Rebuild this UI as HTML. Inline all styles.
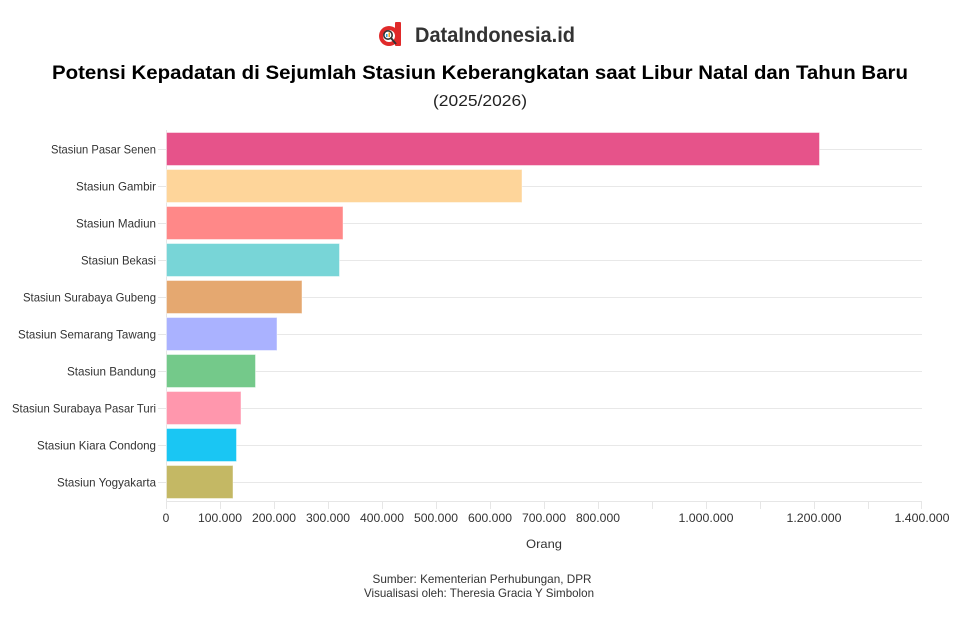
<!DOCTYPE html>
<html>
<head>
<meta charset="utf-8">
<style>
html,body{margin:0;padding:0;background:#fff;}
svg{display:block;}
text{font-family:"Liberation Sans",sans-serif;}
</style>
</head>
<body>
<svg width="960" height="620" viewBox="0 0 960 620" xmlns="http://www.w3.org/2000/svg">
<rect width="960" height="620" fill="#fff"/>
<!-- Logo -->
<g>
  <rect x="395" y="22" width="6" height="24" rx="1" fill="#e02a2a"/>
  <circle cx="389" cy="36" r="10" fill="#e02a2a"/>
  <circle cx="389" cy="36" r="6" fill="#fff"/>
  <circle cx="388" cy="35" r="4.2" fill="none" stroke="#333" stroke-width="1.6"/>
  <rect x="386" y="34" width="1.5" height="3" fill="#2a9fd6"/>
  <rect x="388.5" y="32.5" width="1.5" height="4.5" fill="#f0a020"/>
  <line x1="391" y1="38" x2="396" y2="44" stroke="#333" stroke-width="2"/>
  <text x="415" y="42" font-size="21" font-weight="bold" fill="#333" textLength="160" lengthAdjust="spacingAndGlyphs">DataIndonesia.id</text>
</g>
<!-- Title -->
<text x="52" y="79" font-size="19" font-weight="bold" fill="#000" textLength="856" lengthAdjust="spacingAndGlyphs">Potensi Kepadatan di Sejumlah Stasiun Keberangkatan saat Libur Natal dan Tahun Baru</text>
<text x="480" y="106" font-size="16" fill="#222" text-anchor="middle" textLength="94" lengthAdjust="spacingAndGlyphs">(2025/2026)</text>

<!-- Gridlines -->
<g stroke="#e8e8e8" stroke-width="1">
  <line x1="166" y1="149.5" x2="922" y2="149.5"/>
  <line x1="166" y1="186.5" x2="922" y2="186.5"/>
  <line x1="166" y1="223.5" x2="922" y2="223.5"/>
  <line x1="166" y1="260.5" x2="922" y2="260.5"/>
  <line x1="166" y1="297.5" x2="922" y2="297.5"/>
  <line x1="166" y1="334.5" x2="922" y2="334.5"/>
  <line x1="166" y1="371.5" x2="922" y2="371.5"/>
  <line x1="166" y1="408.5" x2="922" y2="408.5"/>
  <line x1="166" y1="445.5" x2="922" y2="445.5"/>
  <line x1="166" y1="482.5" x2="922" y2="482.5"/>
</g>
<!-- y-axis ticks -->
<g stroke="#e6e6e6" stroke-width="1">
  <line x1="158" y1="149.5" x2="166" y2="149.5"/>
  <line x1="158" y1="186.5" x2="166" y2="186.5"/>
  <line x1="158" y1="223.5" x2="166" y2="223.5"/>
  <line x1="158" y1="260.5" x2="166" y2="260.5"/>
  <line x1="158" y1="297.5" x2="166" y2="297.5"/>
  <line x1="158" y1="334.5" x2="166" y2="334.5"/>
  <line x1="158" y1="371.5" x2="166" y2="371.5"/>
  <line x1="158" y1="408.5" x2="166" y2="408.5"/>
  <line x1="158" y1="445.5" x2="166" y2="445.5"/>
  <line x1="158" y1="482.5" x2="166" y2="482.5"/>
  <line x1="166.5" y1="130" x2="166.5" y2="502"/>
</g>

<!-- Bars -->
<g stroke="rgba(255,255,255,0.45)" stroke-width="1">
  <rect x="166.5" y="132.5" width="653" height="33" fill="#e6538a"/>
  <rect x="166.5" y="169.5" width="355.5" height="33" fill="#fed59a"/>
  <rect x="166.5" y="206.5" width="176.5" height="33" fill="#ff8888"/>
  <rect x="166.5" y="243.5" width="173" height="33" fill="#78d5d7"/>
  <rect x="166.5" y="280.5" width="135.5" height="33" fill="#e5a870"/>
  <rect x="166.5" y="317.5" width="110.5" height="33" fill="#aab2ff"/>
  <rect x="166.5" y="354.5" width="89" height="33" fill="#74c98a"/>
  <rect x="166.5" y="391.5" width="74.5" height="33" fill="#ff97ad"/>
  <rect x="166.5" y="428.5" width="70" height="33" fill="#1ac6f3"/>
  <rect x="166.5" y="465.5" width="66.5" height="33" fill="#c4b864"/>
</g>

<!-- Category labels -->
<g font-size="12" fill="#333" text-anchor="end">
  <text x="156" y="153.5" textLength="105" lengthAdjust="spacingAndGlyphs">Stasiun Pasar Senen</text>
  <text x="156" y="190.5" textLength="80" lengthAdjust="spacingAndGlyphs">Stasiun Gambir</text>
  <text x="156" y="227.5" textLength="80" lengthAdjust="spacingAndGlyphs">Stasiun Madiun</text>
  <text x="156" y="264.5" textLength="75" lengthAdjust="spacingAndGlyphs">Stasiun Bekasi</text>
  <text x="156" y="301.5" textLength="133" lengthAdjust="spacingAndGlyphs">Stasiun Surabaya Gubeng</text>
  <text x="156" y="338.5" textLength="138" lengthAdjust="spacingAndGlyphs">Stasiun Semarang Tawang</text>
  <text x="156" y="375.5" textLength="89" lengthAdjust="spacingAndGlyphs">Stasiun Bandung</text>
  <text x="156" y="412.5" textLength="144" lengthAdjust="spacingAndGlyphs">Stasiun Surabaya Pasar Turi</text>
  <text x="156" y="449.5" textLength="119" lengthAdjust="spacingAndGlyphs">Stasiun Kiara Condong</text>
  <text x="156" y="486.5" textLength="99" lengthAdjust="spacingAndGlyphs">Stasiun Yogyakarta</text>
</g>

<!-- x-axis -->
<g stroke="#e6e6e6" stroke-width="1">
  <line x1="166" y1="501.5" x2="922" y2="501.5"/>
  <line x1="166.5" y1="501" x2="166.5" y2="509"/>
  <line x1="220.5" y1="501" x2="220.5" y2="509"/>
  <line x1="274.5" y1="501" x2="274.5" y2="509"/>
  <line x1="328.5" y1="501" x2="328.5" y2="509"/>
  <line x1="382.5" y1="501" x2="382.5" y2="509"/>
  <line x1="436.5" y1="501" x2="436.5" y2="509"/>
  <line x1="490.5" y1="501" x2="490.5" y2="509"/>
  <line x1="544.5" y1="501" x2="544.5" y2="509"/>
  <line x1="598.5" y1="501" x2="598.5" y2="509"/>
  <line x1="652.5" y1="501" x2="652.5" y2="509"/>
  <line x1="706.5" y1="501" x2="706.5" y2="509"/>
  <line x1="760.5" y1="501" x2="760.5" y2="509"/>
  <line x1="814.5" y1="501" x2="814.5" y2="509"/>
  <line x1="868.5" y1="501" x2="868.5" y2="509"/>
  <line x1="921.5" y1="501" x2="921.5" y2="509"/>
</g>
<g font-size="12" fill="#333" text-anchor="middle">
  <text x="166" y="522">0</text>
  <text x="220" y="522" textLength="44" lengthAdjust="spacingAndGlyphs">100.000</text>
  <text x="274" y="522" textLength="44" lengthAdjust="spacingAndGlyphs">200.000</text>
  <text x="328" y="522" textLength="44" lengthAdjust="spacingAndGlyphs">300.000</text>
  <text x="382" y="522" textLength="44" lengthAdjust="spacingAndGlyphs">400.000</text>
  <text x="436" y="522" textLength="44" lengthAdjust="spacingAndGlyphs">500.000</text>
  <text x="490" y="522" textLength="44" lengthAdjust="spacingAndGlyphs">600.000</text>
  <text x="544" y="522" textLength="44" lengthAdjust="spacingAndGlyphs">700.000</text>
  <text x="598" y="522" textLength="44" lengthAdjust="spacingAndGlyphs">800.000</text>
  <text x="706" y="522" textLength="55" lengthAdjust="spacingAndGlyphs">1.000.000</text>
  <text x="814" y="522" textLength="55" lengthAdjust="spacingAndGlyphs">1.200.000</text>
  <text x="922" y="522" textLength="55" lengthAdjust="spacingAndGlyphs">1.400.000</text>
  <text x="544" y="548" textLength="36" lengthAdjust="spacingAndGlyphs">Orang</text>
</g>

<!-- Footer -->
<g font-size="12" fill="#333" text-anchor="middle">
  <text x="482" y="583" textLength="219" lengthAdjust="spacingAndGlyphs">Sumber: Kementerian Perhubungan, DPR</text>
  <text x="479" y="597" textLength="230" lengthAdjust="spacingAndGlyphs">Visualisasi oleh: Theresia Gracia Y Simbolon</text>
</g>
</svg>
</body>
</html>
